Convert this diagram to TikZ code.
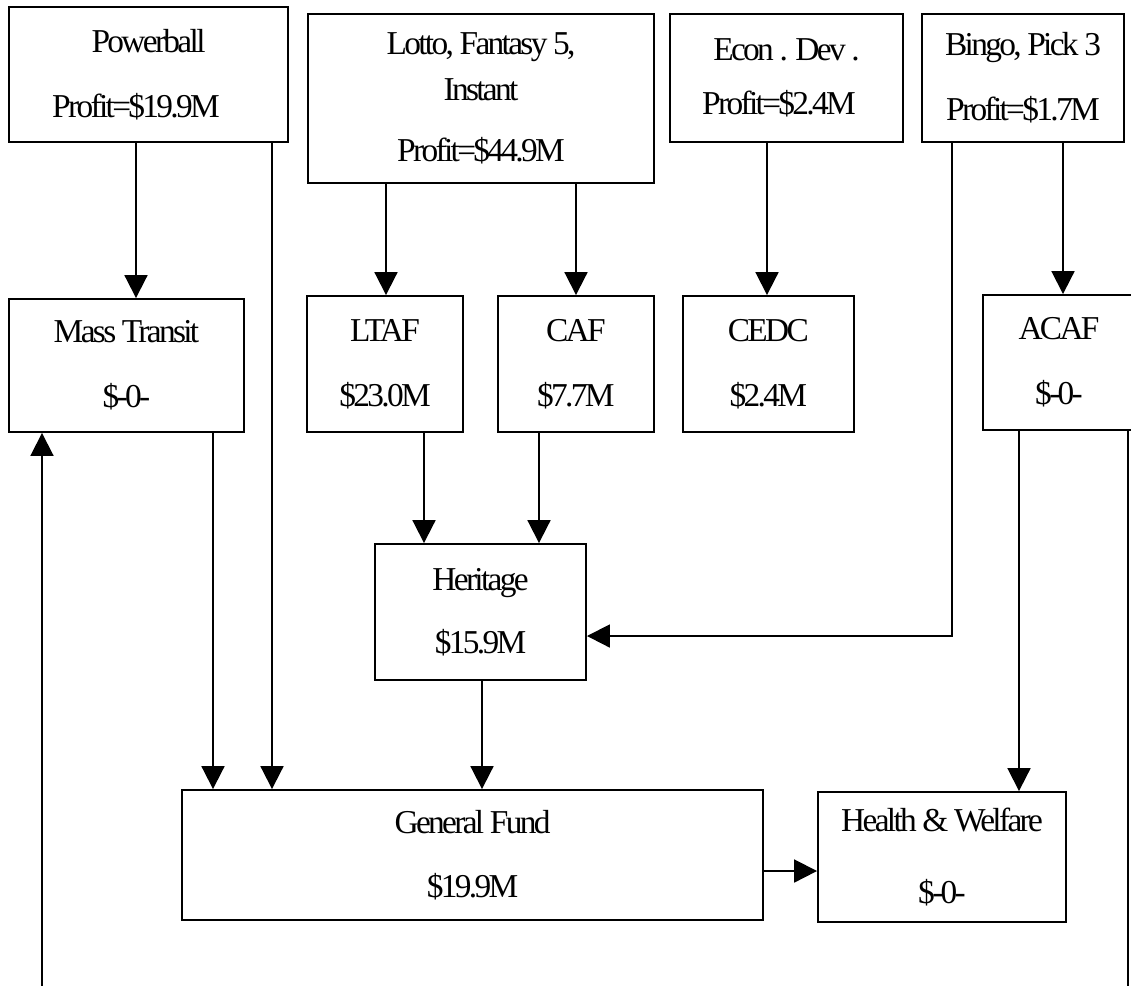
\documentclass[tikz,border=0pt]{standalone}
\usepackage{fontspec}
\setmainfont{Liberation Serif}[LetterSpace=-8]
\usetikzlibrary{arrows.meta,positioning}

\begin{document}
\begin{tikzpicture}[
    x=0.02cm, y=-0.02cm,
    fund/.style={rectangle, draw, line width=1.1pt, inner sep=0pt, align=center, font=\fontsize{19}{22.8}\selectfont},
    flow/.style={-{Triangle[length=13pt, width=13pt]}, line width=1.1pt}
]
    \clip (0,0) rectangle (1131,985);

    % games
    \node[fund, minimum width=5.58cm, minimum height=2.7cm] (pb) at (148.5,74.5) {Powerball\\[14pt]Profit=\$19.9M\hspace*{0.5cm}};
    \node[fund, minimum width=6.92cm, minimum height=3.38cm] (lotto) at (481,98.5) {Lotto, Fantasy 5,\\[3pt]Instant\\[12pt]Profit=\$44.9M};
    \node[fund, minimum width=4.66cm, minimum height=2.56cm] (econ) at (786.5,78) {Econ . Dev .\\[8pt]Profit=\$2.4M\hspace*{0.3cm}};
    \node[fund, minimum width=4.04cm, minimum height=2.56cm] (bingo) at (1023,78) {Bingo, Pick 3\\[14pt]Profit=\$1.7M};

    % funds
    \node[fund, minimum width=4.7cm, minimum height=2.66cm] (mt) at (126.5,365.5) {Mass Transit\\[14pt]\$-0-};
    \node[fund, minimum width=3.12cm, minimum height=2.72cm] (ltaf) at (385,364) {LTAF\\[14pt]\$23.0M};
    \node[fund, minimum width=3.12cm, minimum height=2.72cm, right=0.66cm of ltaf] (caf) {CAF\\[14pt]\$7.7M};
    \node[fund, minimum width=3.42cm, minimum height=2.72cm, right=0.54cm of caf] (cedc) {CEDC\\[14pt]\$2.4M};
    \node[fund, minimum width=3.04cm, minimum height=2.7cm] (acaf) at (1059,362.5) {ACAF\\[14pt]\$-0-};

    \node[fund, minimum width=4.22cm, minimum height=2.72cm] (heritage) at (480.5,612) {Heritage\\[13pt]\$15.9M};
    \node[fund, minimum width=11.62cm, minimum height=2.6cm] (gf) at (472.5,855) {General Fund\\[14pt]\$19.9M};
    \node[fund, minimum width=4.96cm, minimum height=2.6cm] (hw) at (942,857) {Health \& Welfare\\[18pt]\$-0-};

    \coordinate (outL) at (42,990);
    \coordinate (outR) at (1128,990);

    % transfers
    \draw[flow] (pb.south -| 136,0) -- (mt.north -| 136,0);
    \draw[flow] (pb.south -| 272,0) -- (gf.north -| 272,0);
    \draw[flow] (lotto.south -| 386,0) -- (ltaf.north -| 386,0);
    \draw[flow] (lotto.south -| 576,0) -- (caf.north -| 576,0);
    \draw[flow] (econ.south -| 767,0) -- (cedc.north -| 767,0);
    \draw[flow] (bingo.south -| 1063,0) -- (acaf.north -| 1063,0);
    \draw[flow] (bingo.south -| 952,0) |- (heritage.east |- 0,636);
    \draw[flow] (mt.south -| 213,0) -- (gf.north -| 213,0);
    \draw[flow] (ltaf.south -| 424,0) -- (heritage.north -| 424,0);
    \draw[flow] (caf.south -| 539,0) -- (heritage.north -| 539,0);
    \draw[flow] (heritage.south -| 482,0) -- (gf.north -| 482,0);
    \draw[flow] (acaf.south -| 1019,0) -- (hw.north -| 1019,0);
    \draw[flow] (gf.east |- 0,871) -- (hw.west |- 0,871);
    \draw[flow] (outL) -- (mt.south -| outL);
    \draw[line width=1.1pt] (acaf.south -| outR) -- (outR);
\end{tikzpicture}
\end{document}
